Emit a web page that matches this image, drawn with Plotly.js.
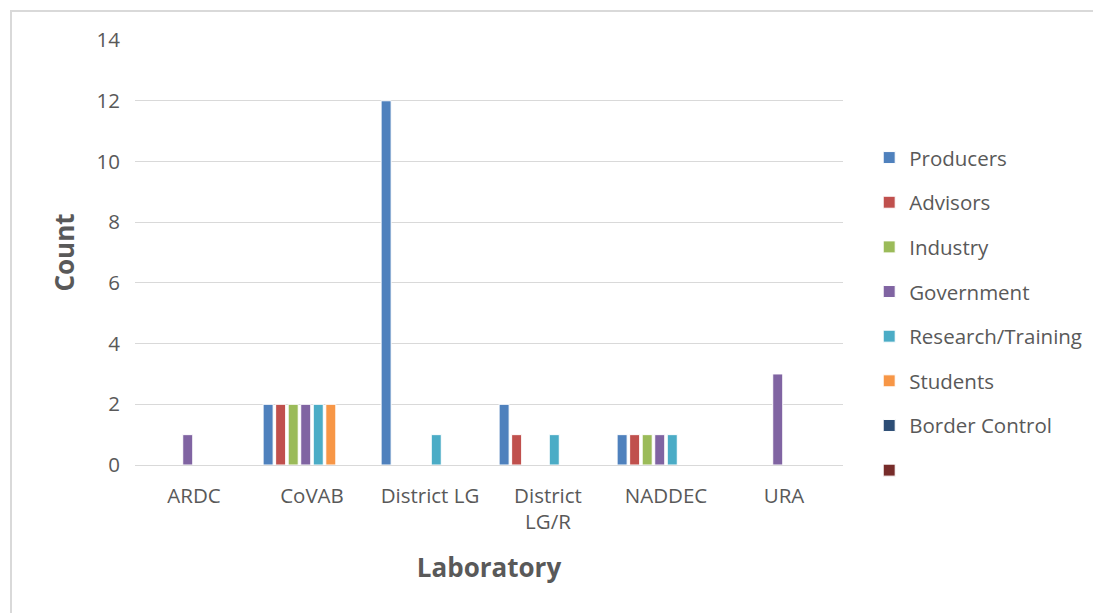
<!DOCTYPE html>
<html>
<head>
<meta charset="utf-8">
<script src="https://cdn.plot.ly/plotly-3.0.1.min.js"></script>
<style>
  html, body { margin: 0; padding: 0; background: #ffffff; }
  #wrap { position: relative; width: 1093px; height: 613px; }
  #chart { position: absolute; left: 0; top: 0; width: 1093px; height: 613px; }
  #frame { position: absolute; left: 10px; top: 10px; width: 1090px; height: 610px;
           border-left: 2px solid #d9d9d9; border-top: 2px solid #d9d9d9; pointer-events: none; }
</style>
</head>
<body>
<div id="wrap">
  <div id="chart"></div>
  <div id="frame"></div>
</div>
<script>
// Laboratories on the category axis
const laboratories = ['ARDC', 'CoVAB', 'District LG', 'District<br>LG/R', 'NADDEC', 'URA'];

// Counts per stakeholder group, one value per laboratory
const producers        = [0, 2, 12, 2, 1, 0];
const advisors         = [0, 2, 0, 1, 1, 0];
const industry         = [0, 2, 0, 0, 1, 0];
const government       = [1, 2, 0, 0, 1, 3];
const researchTraining = [0, 2, 1, 1, 1, 0];
const students         = [0, 2, 0, 0, 0, 0];
const borderControl    = [0, 0, 0, 0, 0, 0];
const unnamedGroup     = [0, 0, 0, 0, 0, 0];

const seriesNames = ['Producers', 'Advisors', 'Industry', 'Government',
                     'Research/Training', 'Students', 'Border Control', ' '];
const seriesValues = [producers, advisors, industry, government,
                      researchTraining, students, borderControl, unnamedGroup];
const seriesColors = ['#4f81bd', '#c0504d', '#9bbb59', '#8064a2',
                      '#4bacc6', '#f79646', '#2c4d75', '#772c2a'];

const FONT = '"Open Sans", "Liberation Sans", sans-serif';
const GREY = '#595959';

const traces = seriesNames.map((name, i) => ({
  type: 'bar',
  name: name,
  x: laboratories,
  y: seriesValues[i],
  legendgroup: 'g' + i,
  marker: { color: seriesColors[i], line: { color: '#ffffff', width: 1 } },
  hoverinfo: 'x+y+name'
}));

const layout = {
  width: 1093,
  height: 613,
  margin: { l: 135, r: 250, t: 40, b: 148, autoexpand: false },
  paper_bgcolor: '#ffffff',
  plot_bgcolor: '#ffffff',
  barmode: 'group',
  bargap: 0.15,
  bargroupgap: 0.2,
  font: { family: FONT, color: GREY, size: 20 },
  showlegend: true,
  legend: {
    x: 1.037, xanchor: 'left',
    y: 0.77, yanchor: 'top',
    traceorder: 'grouped',
    tracegroupgap: 15,
    font: { family: FONT, size: 20.5, color: GREY },
    itemclick: false, itemdoubleclick: false
  },
  xaxis: {
    type: 'category',
    showgrid: false,
    showline: true,
    linecolor: '#d9d9d9',
    linewidth: 1,
    ticks: '',
    ticklabelstandoff: 12,
    tickfont: { family: FONT, size: 20.5, color: GREY },
    title: { text: '<b>Laboratory</b>', font: { family: FONT, size: 26, color: GREY }, standoff: 24 },
    fixedrange: true
  },
  yaxis: {
    range: [0, 14.002],
    tickvals: [0, 2, 4, 6, 8, 10, 12, 14],
    showgrid: true,
    gridcolor: '#d9d9d9',
    gridwidth: 1,
    zeroline: false,
    showline: false,
    ticks: '',
    ticklabelstandoff: 14,
    tickfont: { family: FONT, size: 20.5, color: GREY },
    title: { text: '<b>Count</b>', font: { family: FONT, size: 26, color: GREY }, standoff: 14 },
    fixedrange: true
  }
};

Plotly.newPlot('chart', traces, layout, { displayModeBar: false, staticPlot: true });
</script>
</body>
</html>
